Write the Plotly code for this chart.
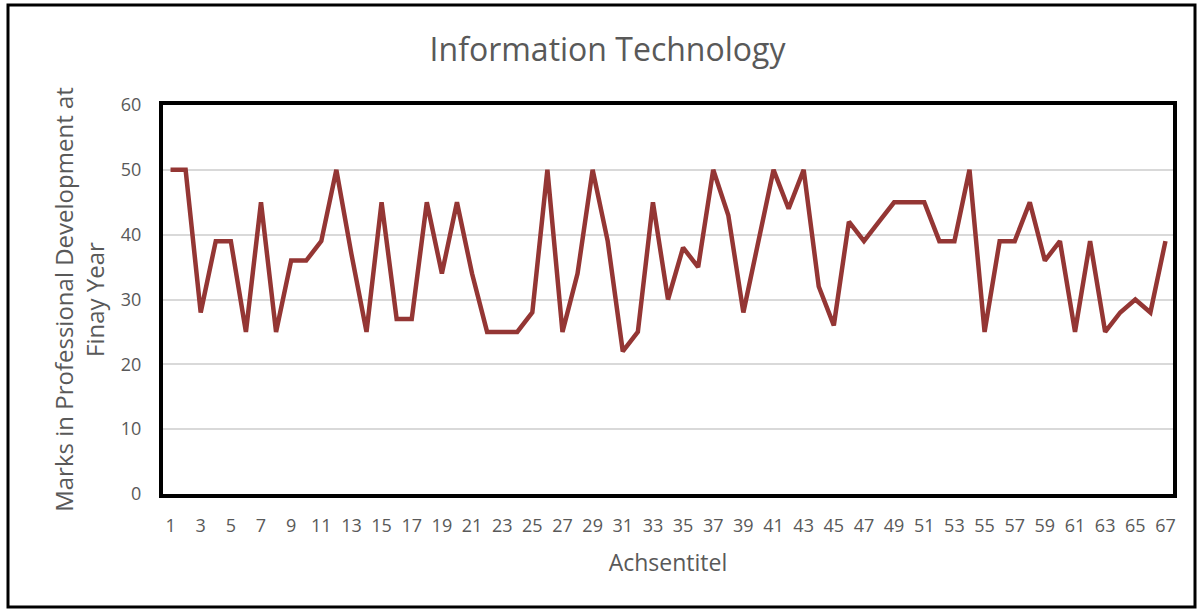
import plotly.graph_objects as go

# student index and marks
students = list(range(1, 68))
marks = [
    50, 50, 28, 39, 39, 25, 45, 25, 36, 36,
    39, 50, 37, 25, 45, 27, 27, 45, 34, 45,
    34, 25, 25, 25, 28, 50, 25, 34, 50, 39,
    22, 25, 45, 30, 38, 35, 50, 43, 28, 39,
    50, 44, 50, 32, 26, 42, 39, 42, 45, 45,
    45, 39, 39, 50, 25, 39, 39, 45, 36, 39,
    25, 39, 25, 28, 30, 28, 39,
]
x_ticks = list(range(1, 68, 2))
y_ticks = [0, 10, 20, 30, 40, 50, 60]

font_family = "'Open Sans', sans-serif"
grey = "#595959"

fig = go.Figure(
    go.Scatter(
        x=students,
        y=marks,
        mode="lines",
        line=dict(color="#943634", width=4.5),
        showlegend=False,
    )
)

fig.update_layout(
    width=1203,
    height=612,
    paper_bgcolor="white",
    plot_bgcolor="white",
    margin=dict(l=163, r=30, t=105, b=118),
    title=dict(
        text="Information Technology",
        x=0.505,
        xanchor="center",
        y=0.918,
        yanchor="middle",
        font=dict(family=font_family, size=32, color=grey),
    ),
    font=dict(family=font_family, color=grey),
    xaxis=dict(
        range=[0.5, 67.5],
        tickvals=x_ticks,
        ticktext=[str(v) for v in x_ticks],
        tickfont=dict(size=18, color=grey),
        ticks="",
        ticklabelstandoff=12,
        showgrid=False,
        zeroline=False,
        showline=True,
        linecolor="black",
        linewidth=4,
        mirror=True,
        title=dict(text="Achsentitel", font=dict(size=23, color=grey), standoff=20),
    ),
    yaxis=dict(
        range=[0, 60],
        tickvals=y_ticks,
        tickfont=dict(size=18, color=grey),
        ticks="",
        ticklabelstandoff=14,
        showgrid=True,
        gridcolor="#d9d9d9",
        gridwidth=1.5,
        zeroline=False,
        showline=True,
        linecolor="black",
        linewidth=4,
        mirror=True,
        title=dict(
            text="Marks in Professional Development at<br>Finay Year",
            font=dict(size=24, color=grey),
            standoff=10,
        ),
    ),
    shapes=[
        dict(
            type="rect",
            xref="paper",
            yref="paper",
            x0=(8 - 163) / 1010,
            x1=(1195 - 163) / 1010,
            y0=(494 - 607) / 389,
            y1=(494 - 5) / 389,
            line=dict(color="black", width=3),
            layer="below",
        )
    ],
)

# drop the default page margin so the figure sits at the window origin
fig.write_html(
    "out.html",
    config={"displayModeBar": False},
    post_script="document.body.style.margin='0';",
)
